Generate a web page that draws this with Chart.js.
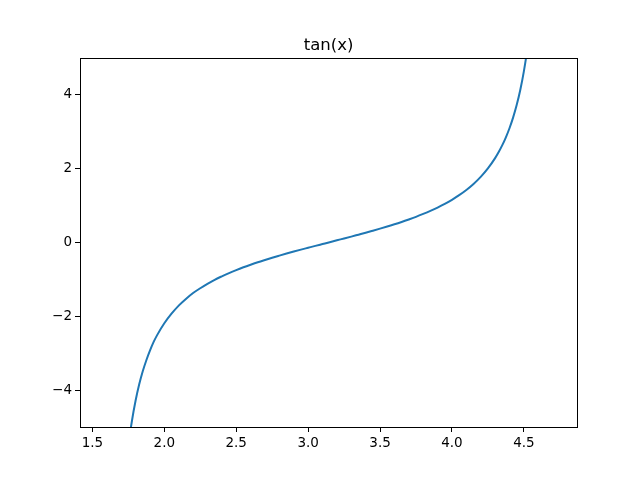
<!DOCTYPE html>
<html>
<head>
<meta charset="utf-8">
<script src="https://cdn.jsdelivr.net/npm/chart.js@4/dist/chart.umd.min.js"></script>
<style>
  html, body { margin: 0; padding: 0; background: #fff; }
  #wrap { width: 640px; height: 480px; }
</style>
</head>
<body>
<div id="wrap"><canvas id="myChart" width="640" height="480"></canvas></div>
<script>
// values
var xValues = [1.70, 1.75, 1.775, 1.80, 1.825, 1.85, 1.875, 1.90, 1.925, 1.95, 2.00, 2.05, 2.10, 2.15, 2.20, 2.25, 2.30, 2.35,
  2.40, 2.45, 2.50, 2.55, 2.60, 2.65, 2.70, 2.75, 2.80, 2.85, 2.90, 2.95, 3.00, 3.05, 3.10, 3.15,
  3.20, 3.25, 3.30, 3.35, 3.40, 3.45, 3.50, 3.55, 3.60, 3.65, 3.70, 3.75, 3.80, 3.85, 3.90, 3.95,
  4.00, 4.05, 4.10, 4.15, 4.20, 4.25, 4.30, 4.325, 4.35, 4.375, 4.40, 4.425, 4.45, 4.475, 4.50, 4.525, 4.55, 4.60];
var yValues = [-7.70, -5.52, -4.83, -4.29, -3.85, -3.49, -3.19, -2.93, -2.70, -2.51, -2.19, -1.93, -1.71, -1.53, -1.37, -1.24, -1.12, -1.01,
  -0.916, -0.828, -0.747, -0.672, -0.602, -0.535, -0.473, -0.413, -0.356, -0.300, -0.246, -0.194, -0.143, -0.092, -0.042, 0.008,
  0.059, 0.109, 0.160, 0.212, 0.264, 0.319, 0.375, 0.433, 0.493, 0.557, 0.625, 0.696, 0.774, 0.857, 0.947, 1.047,
  1.158, 1.282, 1.423, 1.587, 1.778, 2.007, 2.286, 2.451, 2.638, 2.851, 3.096, 3.383, 3.723, 4.132, 4.637, 5.274, 6.105, 8.86];
var xTicks = [1.5, 2.0, 2.5, 3.0, 3.5, 4.0, 4.5];
var yTicks = [-4, -2, 0, 2, 4];
var xRange = [1.4137, 4.8695];
var yRange = [-5, 5];
var chartTitle = 'tan(x)';

var points = xValues.map(function(x, i) { return { x: x, y: yValues[i] }; });

// frame around the plot area and the title, like matplotlib
var framePlugin = {
    id: 'frame',
    afterDraw: function(chart) {
        var a = chart.chartArea;
        var c = chart.ctx;
        c.save();
        c.strokeStyle = '#000';
        c.lineWidth = 1;
        c.strokeRect(Math.round(a.left) + 0.5, Math.round(a.top) + 0.5,
            Math.round(a.right - a.left), Math.round(a.bottom - a.top));
        c.fillStyle = '#000';
        c.font = '16.5px "DejaVu Sans"';
        c.textAlign = 'center';
        c.textBaseline = 'alphabetic';
        c.fillText(chartTitle, (a.left + a.right) / 2, a.top - 8);
        c.restore();
    }
};

var tickFont = { family: 'DejaVu Sans', size: 13.5 };

var ctx = document.getElementById('myChart').getContext('2d');
var chart = new Chart(ctx, {
    type: 'line',
    data: {
        datasets: [{
            data: points,
            borderColor: '#1f77b4',
            borderWidth: 2,
            pointRadius: 0,
            fill: false,
            cubicInterpolationMode: 'monotone'
        }]
    },
    options: {
        responsive: false,
        animation: false,
        layout: { padding: { top: 58, right: 63, left: 0, bottom: 0 } },
        plugins: {
            legend: { display: false },
            tooltip: { enabled: false }
        },
        scales: {
            x: {
                type: 'linear',
                min: xRange[0],
                max: xRange[1],
                afterBuildTicks: function(scale) {
                    scale.ticks = xTicks.map(function(v) { return { value: v }; });
                },
                afterFit: function(scale) { scale.height = 53; },
                grid: { drawOnChartArea: false, tickLength: 5, color: '#000' },
                border: { color: '#000' },
                ticks: {
                    color: '#000',
                    font: tickFont,
                    padding: 3,
                    maxRotation: 0,
                    callback: function(v) { return v.toFixed(1); }
                }
            },
            y: {
                type: 'linear',
                min: yRange[0],
                max: yRange[1],
                afterBuildTicks: function(scale) {
                    scale.ticks = yTicks.map(function(v) { return { value: v }; });
                },
                afterFit: function(scale) { scale.width = 80; },
                grid: { drawOnChartArea: false, tickLength: 5, color: '#000' },
                border: { color: '#000' },
                ticks: {
                    color: '#000',
                    font: tickFont,
                    padding: 3,
                    callback: function(v) { return v < 0 ? '\u2212' + Math.abs(v) : String(v); }
                }
            }
        }
    },
    plugins: [framePlugin]
});
</script>
</body>
</html>
